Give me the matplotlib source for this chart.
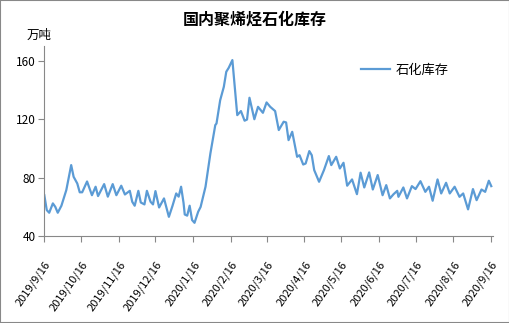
import matplotlib
matplotlib.use('Agg')
import matplotlib.pyplot as plt
import matplotlib.patches as mpatches
import matplotlib.transforms as mtransforms
import pandas as pd

plt.rcParams['font.family'] = ['Noto Sans CJK SC', 'DejaVu Sans']

# days after 2019-09-16 and inventory (10k tons)
day_offsets = [0, 2, 4, 7, 9, 11, 14, 18, 22, 24, 27, 29, 31, 35, 39, 42, 44, 49, 52, 56,
               59, 63, 66, 70, 72, 74, 77, 79, 82, 84, 87, 89, 91, 94, 98, 102, 105, 108, 110, 112,
               114, 115, 117, 119, 121, 123, 126, 128, 132, 136, 140, 141, 144, 147, 149, 151, 154, 158, 161, 164,
               166, 168, 172, 175, 179, 182, 185, 189, 192, 196, 198, 200, 203, 207, 209, 212, 214, 217, 219, 221,
               225, 229, 233, 235, 239, 242, 245, 248, 252, 256, 259, 262, 266, 269, 273, 277, 280, 283, 286, 289,
               290, 294, 297, 301, 304, 308, 312, 315, 318, 322, 325, 329, 332, 336, 340, 343, 347, 351, 354, 358,
               361, 364, 366]
inventory = [68, 57.8, 56, 62.4, 60, 56, 60.8, 71.5, 88.6, 80.6, 76, 70, 70, 77.4, 68, 73.8, 67.4, 75.6, 67, 75.6,
             68, 74.5, 68.5, 71, 63.5, 60.8, 71, 63, 61.7, 71, 63.5, 61.7, 70.8, 59.6, 65.8, 53.2, 60.8, 69.2, 67, 73.8,
             62.8, 54.8, 54, 60.8, 51, 49.1, 56.7, 60, 73.8, 96.6, 116, 117.1, 133, 142.2, 152.5, 155.2, 160.5, 122.8, 125.6, 119,
             119.8, 134.7, 120, 128.5, 124.4, 131.5, 128.5, 125.6, 112.6, 118.3, 117.8, 105.7, 111.4, 94.3, 95.4, 89, 89.7, 98.2, 95.4, 85.2,
             77.2, 85.2, 94.8, 88.6, 94.3, 86.3, 90.2, 74.5, 78.8, 68.7, 83.4, 73.3, 83.6, 71.9, 81.8, 68, 74.9, 65.8, 68.7, 71,
             66.9, 73.3, 65.8, 74.2, 72.2, 77.6, 70.3, 73.8, 64.2, 78.8, 69.2, 76.5, 69.2, 73.8, 66.9, 69.2, 58.3, 72.2, 64.6, 71.9,
             70.3, 77.9, 74.2]

tick_dates = ['2019-09-16', '2019-10-16', '2019-11-16', '2019-12-16', '2020-01-16', '2020-02-16',
              '2020-03-16', '2020-04-16', '2020-05-16', '2020-06-16', '2020-07-16', '2020-08-16', '2020-09-16']
tick_labels = ['2019/9/16', '2019/10/16', '2019/11/16', '2019/12/16', '2020/1/16', '2020/2/16',
               '2020/3/16', '2020/4/16', '2020/5/16', '2020/6/16', '2020/7/16', '2020/8/16', '2020/9/16']

start = pd.Timestamp('2019-09-16')
dates = start + pd.to_timedelta(day_offsets, unit='D')

fig = plt.figure(figsize=(5.1, 3.23), dpi=100)
ax = fig.add_axes([0.0869, 0.269, 0.879, 0.588])

ax.plot(dates, inventory, color='#5B9BD5', lw=1.6, label='石化库存')

ax.set_ylim(40, 170)
ax.set_yticks([40, 80, 120, 160])
ax.set_xlim(start, start + pd.Timedelta(days=367.1))
ax.set_xticks(pd.to_datetime(tick_dates))
ax.set_xticklabels(tick_labels, rotation=55, ha='right', va='top', rotation_mode='anchor', fontsize=8)
offset = mtransforms.ScaledTranslation(8 / 100, 0, fig.dpi_scale_trans)
for lbl in ax.get_xticklabels():
    lbl.set_transform(lbl.get_transform() + offset)

for s in ['top', 'right']:
    ax.spines[s].set_visible(False)
for s in ['left', 'bottom']:
    ax.spines[s].set_color('#888888')
ax.tick_params(axis='both', colors='#888888', labelcolor='black', length=4, width=0.8)
ax.tick_params(axis='y', labelsize=8.5, pad=2)
ax.tick_params(axis='x', pad=13)

ax.legend(loc='upper left', bbox_to_anchor=(0.68, 0.97), frameon=False, fontsize=9.5,
          handlelength=2.2, handletextpad=0.4)

fig.text(0.5, 0.938, '国内聚烯烃石化库存', ha='center', va='center', fontsize=11.5, fontweight='bold')
fig.text(0.053, 0.889, '万吨', ha='left', va='center', fontsize=9)

fig.patches.append(mpatches.Rectangle((0, 0), 1, 1, transform=fig.transFigure, fill=False,
                                      edgecolor='#888888', lw=1.5))

plt.savefig('out.png', dpi=100)
